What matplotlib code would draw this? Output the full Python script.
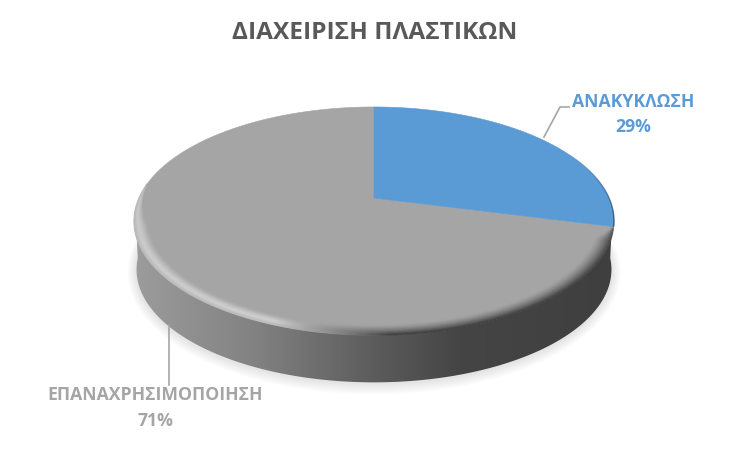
import numpy as np
import matplotlib
matplotlib.use("Agg")
import matplotlib.pyplot as plt
from matplotlib.patches import Polygon
from matplotlib.collections import LineCollection
from matplotlib.colors import LinearSegmentedColormap

title = "ΔΙΑΧΕΙΡΙΣΗ ΠΛΑΣΤΙΚΩΝ"
categories = ["ΑΝΑΚΥΚΛΩΣΗ", "ΕΠΑΝΑΧΡΗΣΙΜΟΠΟΙΗΣΗ"]
shares = [29, 71]
colors = ["#5b9bd5", "#a5a5a5"]

plt.rcParams["font.family"] = ["Open Sans", "DejaVu Sans"]
fig = plt.figure(figsize=(7.5, 4.5), dpi=100)
ax = fig.add_axes([0, 0, 1, 1])
ax.axis("off")

CX, CY, A, B, K = 374.0, 198.0, 235.0, 109.4, 0.2018


def disc(phi, s=1.0, dy=0.0, grow=0.0):
    """Perspective view of the pie disc; phi clockwise from 12 o'clock."""
    X, Y = s * np.sin(phi), s * np.cos(phi)
    w = 1 + K * Y
    return np.column_stack([CX + (A + grow) * X / w, CY + dy + (B + grow) * -Y / w])


full = np.linspace(0, 2 * np.pi, 721)
DROP = 49.0
WALL = 0.99

# soft shadow
for g in range(1, 10):
    ax.add_patch(Polygon(disc(full, WALL, DROP + 1, g), closed=True, fc="black",
                         ec="none", alpha=0.011, zorder=1))

# side wall with a horizontal gradient
wall_cmap = LinearSegmentedColormap.from_list(
    "wall", [(0.0, "#9c9c9c"), (0.25, "#828282"), (0.5, "#5c5c5c"),
             (0.68, "#454545"), (1.0, "#3f3f3f")])
lower = np.linspace(np.pi / 2 + 0.1, 3 * np.pi / 2 - 0.1, 361)
wall_outline = np.vstack([disc(lower, WALL, DROP), disc(lower[::-1])])
clip = Polygon(wall_outline, closed=True, fc="none", ec="none", zorder=2)
ax.add_patch(clip)
im = ax.imshow(np.linspace(0, 1, 256)[None, :], extent=(134, 614, 400, 200),
               cmap=wall_cmap, aspect="auto", zorder=2, vmin=0, vmax=1)
im.set_clip_path(clip)
ax.set_xlim(0, 750)
ax.set_ylim(450, 0)

# pie face, from the shares
fractions = np.cumsum([0] + shares) / sum(shares) * 2 * np.pi
for i, (c, start, end) in enumerate(zip(colors, fractions[:-1], fractions[1:])):
    arc = disc(np.linspace(start, end, 361))
    ax.add_patch(Polygon(np.vstack([[CX, CY], arc]), closed=True, fc=c, ec=c,
                         lw=0.4, zorder=3 if i else 4))

# dark thin edge on the blue slice's right side
edge = disc(np.linspace(fractions[1] * 0.62, fractions[1], 120))
ax.add_collection(LineCollection([edge[j:j + 2] for j in range(len(edge) - 1)],
                                 colors=[(0.17, 0.29, 0.42, j / len(edge)) for j in range(len(edge) - 1)],
                                 linewidths=1.0, zorder=5))

# bevel around the lower rim, starting where the blue slice ends
phis = np.linspace(fractions[1] + 0.01, 4.85, 480)
face = np.array([0xa5, 0xa5, 0xa5]) / 255
light = np.array([0xd0, 0xd0, 0xd0]) / 255
dark = np.array([0x40, 0x40, 0x40]) / 255
segs, cols = [], []
for t in np.linspace(0, 1, 18):
    for p0, p1 in zip(phis[:-1], phis[1:]):
        p = (p0 + p1) / 2
        fade = min(np.clip((p - fractions[1]) / 0.12, 0, 1), np.clip((4.85 - p) / 0.4, 0, 1))
        if fade <= 0.02:
            continue
        s = 1 - 0.06 * fade * (1 - t)
        pts = disc(np.array([p0, p1]), s)
        mix = np.clip((-np.sin(p) + 0.05) / 0.4, 0, 1)
        rim = dark + (light - dark) * mix
        # soft ridge on the lit side, plain darkening towards the edge on the shaded side
        ridge = np.sin(np.pi * min(t / 0.75, 1) / 2) ** 2
        ridge = ridge * (1 - 0.45 * max(t - 0.75, 0) / 0.25)
        amount = mix * ridge + (1 - mix) * t ** 1.5
        segs.append(pts)
        cols.append(np.append(face + (rim - face) * amount, fade))
ax.add_collection(LineCollection(segs, colors=cols, linewidths=1.0, zorder=5,
                                 capstyle="butt"))

# leader lines
ax.plot([544, 560, 569], [137, 107, 107], color="#a5a5a5", lw=1.2, zorder=6)
ax.plot([169, 169], [325, 385], color="#a5a5a5", lw=1.2, zorder=6)

# texts
ax.text(375, 33, title, ha="center", va="center", fontsize=17.6, fontweight="bold",
        color="#595959", zorder=7)
ax.text(633, 102, categories[0], ha="center", va="center", fontsize=12.7,
        fontweight="bold", color=colors[0], zorder=7)
ax.text(633, 127, f"{shares[0]}%", ha="center", va="center", fontsize=12.7,
        fontweight="bold", color=colors[0], zorder=7)
ax.text(155, 395, categories[1], ha="center", va="center", fontsize=12.7,
        fontweight="bold", color=colors[1], zorder=7)
ax.text(155, 421, f"{shares[1]}%", ha="center", va="center", fontsize=12.7,
        fontweight="bold", color=colors[1], zorder=7)

fig.savefig("out.png", dpi=100, facecolor="white")
